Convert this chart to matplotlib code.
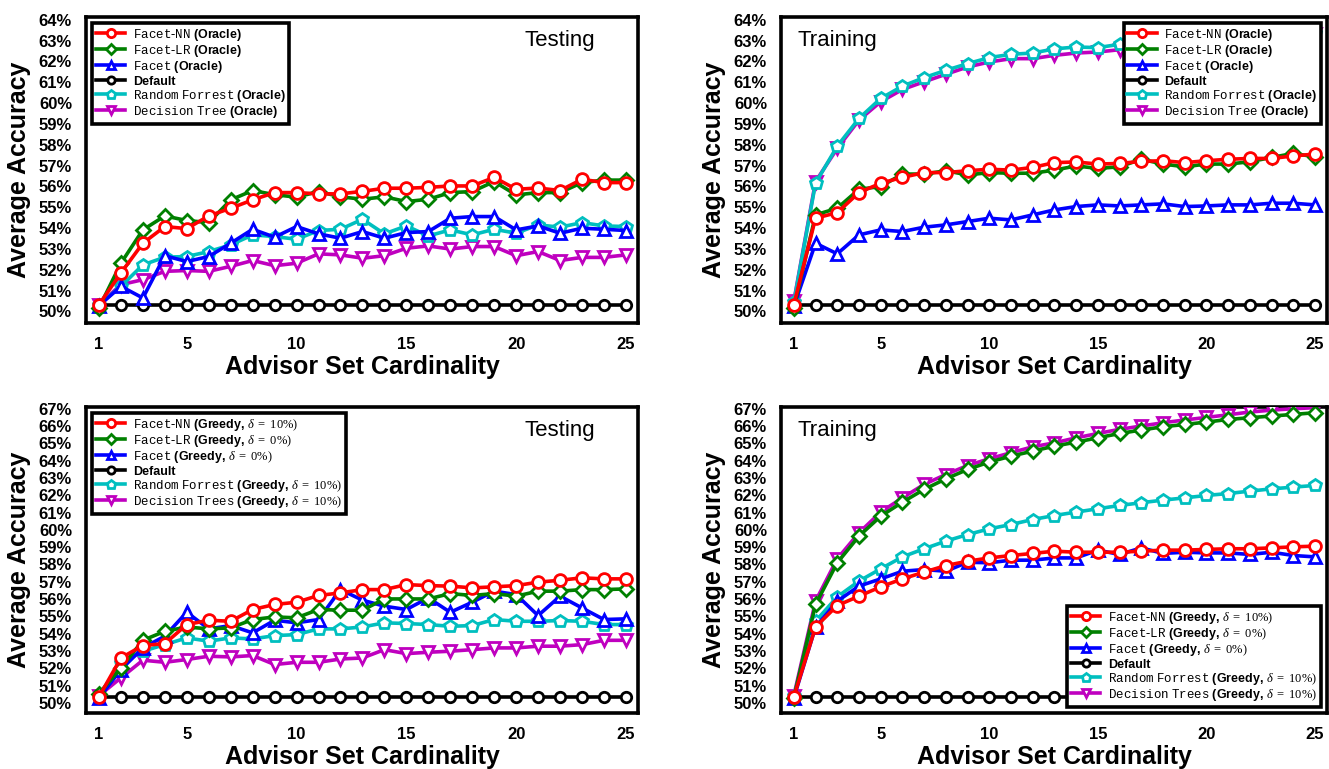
import matplotlib
matplotlib.use("Agg")
import matplotlib.pyplot as plt
from matplotlib.ticker import FixedLocator, FuncFormatter

plt.rcParams['mathtext.fontset'] = 'custom'
plt.rcParams['mathtext.tt'] = 'Liberation Mono'
plt.rcParams['mathtext.rm'] = 'Liberation Serif'
plt.rcParams['mathtext.it'] = 'Liberation Serif:italic'
plt.rcParams['mathtext.bf'] = 'Liberation Sans:bold'
plt.rcParams['font.family'] = ['Liberation Sans', 'DejaVu Sans']

cardinality = list(range(1, 26))
x_ticks = [1, 5, 10, 15, 20, 25]

# ---- Top-left: Testing (Oracle)
test_oracle_nn = [50.32, 51.84, 53.27, 54.07, 53.97, 54.58, 54.95, 55.35, 55.70, 55.70, 55.64, 55.64, 55.76,
                  55.91, 55.91, 55.95, 56.02, 56.02, 56.43, 55.86, 55.92, 55.80, 56.34, 56.18, 56.18]
test_oracle_lr = [50.16, 52.31, 53.91, 54.58, 54.36, 54.26, 55.35, 55.80, 55.60, 55.48, 55.75, 55.50, 55.38,
                  55.50, 55.27, 55.38, 55.70, 55.75, 56.23, 55.59, 55.70, 55.70, 56.18, 56.30, 56.30]
test_oracle_facet = [50.27, 51.20, 50.64, 52.67, 52.39, 52.63, 53.27, 53.94, 53.56, 54.07, 53.72, 53.51, 53.83,
                     53.51, 53.78, 53.83, 54.47, 54.55, 54.55, 53.91, 54.10, 53.75, 53.99, 53.94, 53.88]
test_oracle_default = [50.32] * 25
test_oracle_rf = [50.32, 51.20, 52.23, 52.60, 52.63, 52.87, 53.19, 53.67, 53.59, 53.46, 53.88, 53.94, 54.42,
                  53.72, 54.10, 53.62, 53.91, 53.67, 53.94, 53.75, 54.15, 54.04, 54.26, 54.10, 54.07]
test_oracle_dt = [50.32, 51.28, 51.52, 51.92, 51.96, 51.92, 52.16, 52.44, 52.19, 52.31, 52.76, 52.71, 52.55,
                  52.67, 53.03, 53.14, 52.99, 53.11, 53.11, 52.67, 52.87, 52.44, 52.59, 52.59, 52.71]

# ---- Top-right: Training (Oracle)
train_oracle_nn = [50.32, 54.47, 54.74, 55.70, 56.15, 56.43, 56.66, 56.66, 56.75, 56.82, 56.78, 56.91, 57.14,
                   57.17, 57.07, 57.10, 57.20, 57.23, 57.14, 57.23, 57.30, 57.34, 57.34, 57.46, 57.55]
train_oracle_lr = [50.16, 54.63, 54.95, 55.86, 55.99, 56.59, 56.59, 56.75, 56.55, 56.66, 56.63, 56.63, 56.78,
                   56.98, 56.86, 56.94, 57.30, 57.07, 56.94, 57.07, 57.07, 57.18, 57.39, 57.58, 57.42]
train_oracle_facet = [50.24, 53.27, 52.76, 53.67, 53.91, 53.83, 54.04, 54.15, 54.31, 54.47, 54.39, 54.63, 54.87,
                      55.03, 55.11, 55.06, 55.11, 55.16, 55.03, 55.06, 55.11, 55.11, 55.19, 55.19, 55.11]
train_oracle_default = [50.32] * 25
train_oracle_rf = [50.43, 56.15, 57.93, 59.26, 60.22, 60.81, 61.22, 61.57, 61.89, 62.18, 62.34, 62.40, 62.60,
                   62.69, 62.66, 62.82, 62.90, 63.00, 63.05, 63.10, 63.15, 63.20, 63.25, 63.30, 63.35]
train_oracle_dt = [50.48, 56.23, 57.82, 59.18, 60.06, 60.65, 61.02, 61.38, 61.73, 61.97, 62.13, 62.13, 62.29,
                   62.40, 62.45, 62.56, 62.65, 62.75, 62.85, 62.90, 63.00, 63.05, 63.10, 63.20, 63.30]

# ---- Bottom-left: Testing (Greedy)
test_greedy_nn = [50.35, 52.60, 53.32, 53.43, 54.53, 54.78, 54.72, 55.40, 55.69, 55.82, 56.21, 56.36, 56.55,
                  56.55, 56.84, 56.78, 56.75, 56.65, 56.71, 56.78, 56.98, 57.09, 57.23, 57.17, 57.17]
test_greedy_lr = [50.54, 52.02, 53.62, 54.14, 54.39, 54.28, 54.34, 54.82, 54.97, 54.92, 55.40, 55.36, 55.36,
                  56.01, 56.01, 56.01, 56.32, 56.21, 56.32, 56.17, 56.46, 56.46, 56.55, 56.55, 56.59]
test_greedy_facet = [50.29, 51.93, 53.18, 53.86, 55.24, 54.28, 54.47, 54.05, 54.78, 54.63, 54.82, 56.55, 55.94,
                     55.59, 55.40, 56.07, 55.24, 55.82, 56.46, 56.26, 55.05, 56.17, 55.49, 54.82, 54.86]
test_greedy_default = [50.35] * 25
test_greedy_rf = [50.42, 52.31, 52.99, 53.37, 53.76, 53.57, 53.76, 53.70, 53.89, 53.95, 54.28, 54.28, 54.39,
                  54.63, 54.59, 54.53, 54.43, 54.47, 54.82, 54.72, 54.72, 54.76, 54.72, 54.53, 54.53]
test_greedy_dt = [50.42, 51.45, 52.47, 52.35, 52.51, 52.70, 52.66, 52.74, 52.22, 52.35, 52.35, 52.54, 52.60,
                  53.08, 52.85, 52.93, 52.99, 53.08, 53.18, 53.18, 53.28, 53.28, 53.37, 53.62, 53.62]

# ---- Bottom-right: Training (Greedy)
train_greedy_nn = [50.35, 54.39, 55.63, 56.17, 56.71, 57.17, 57.56, 57.94, 58.19, 58.38, 58.52, 58.64, 58.77,
                   58.71, 58.71, 58.71, 58.77, 58.83, 58.83, 58.87, 58.91, 58.91, 58.96, 59.02, 59.06]
train_greedy_lr = [50.29, 55.69, 58.10, 59.64, 60.79, 61.60, 62.34, 62.95, 63.49, 63.92, 64.26, 64.55, 64.84,
                   65.07, 65.32, 65.57, 65.77, 65.96, 66.09, 66.23, 66.38, 66.48, 66.58, 66.67, 66.77]
train_greedy_facet = [50.29, 54.39, 55.88, 56.75, 57.17, 57.61, 57.71, 57.61, 58.13, 58.10, 58.25, 58.25, 58.38,
                      58.38, 58.83, 58.58, 58.96, 58.64, 58.71, 58.67, 58.67, 58.58, 58.71, 58.52, 58.44]
train_greedy_default = [50.35] * 25
train_greedy_rf = [50.42, 54.72, 56.13, 57.04, 57.75, 58.44, 58.91, 59.35, 59.73, 60.06, 60.31, 60.60, 60.83,
                   61.03, 61.22, 61.41, 61.57, 61.72, 61.85, 61.99, 62.10, 62.24, 62.37, 62.47, 62.57]
train_greedy_dt = [50.42, 55.88, 58.33, 59.83, 61.03, 61.85, 62.63, 63.20, 63.72, 64.11, 64.46, 64.80, 65.03,
                   65.32, 65.57, 65.81, 66.00, 66.19, 66.35, 66.50, 66.65, 66.81, 66.92, 67.00, 67.06]

oracle_labels = [r"$\mathtt{Facet\text{-}NN}$ (Oracle)",
                 r"$\mathtt{Facet\text{-}LR}$ (Oracle)",
                 r"$\mathtt{Facet}$ (Oracle)",
                 "Default",
                 r"$\mathtt{Random\ Forrest}$ (Oracle)",
                 r"$\mathtt{Decision\ Tree}$ (Oracle)"]
greedy_labels = [r"$\mathtt{Facet\text{-}NN}$ (Greedy, $\delta\ =\ 10\%)$",
                 r"$\mathtt{Facet\text{-}LR}$ (Greedy, $\delta\ =\ 0\%)$",
                 r"$\mathtt{Facet}$ (Greedy, $\delta\ =\ 0\%)$",
                 "Default",
                 r"$\mathtt{Random\ Forrest}$ (Greedy, $\delta\ =\ 10\%)$",
                 r"$\mathtt{Decision\ Trees}$ (Greedy, $\delta\ =\ 10\%)$"]

colors = ['red', 'g', 'b', 'k', 'c', 'm']
markers = ['o', 'D', '^', 'o', 'p', 'v']
msizes = [8.5, 7.5, 9, 7.5, 9, 9]

W, H = 1329, 769
fig = plt.figure(figsize=(W / 100, H / 100), dpi=100)


def make_panel(rect, series, labels, yticks, ylim, title, title_x, legend_loc):
    l, t, r, b = rect
    ax = fig.add_axes([l / W, 1 - b / H, (r - l) / W, (b - t) / H])
    handles = []
    for i in reversed(range(6)):
        h, = ax.plot(cardinality, series[i], color=colors[i], marker=markers[i], ms=msizes[i],
                     mfc='white', mec=colors[i], mew=2.0, lw=2.6, zorder=3 + (6 - i))
        handles.append(h)
    handles = handles[::-1]
    ax.set_xlim(0.41, 25.55)
    ax.set_ylim(*ylim)
    ax.xaxis.set_major_locator(FixedLocator(x_ticks))
    ax.yaxis.set_major_locator(FixedLocator(yticks))
    ax.yaxis.set_major_formatter(FuncFormatter(lambda v, p: f"{v:.0f}%"))
    ax.tick_params(length=0, pad=10, labelsize=12)
    for lab in ax.get_xticklabels() + ax.get_yticklabels():
        lab.set_fontweight('bold')
    for s in ax.spines.values():
        s.set_linewidth(2.6)
        s.set_color('black')
    ax.set_xlabel('Advisor Set Cardinality', fontsize=18, fontweight='bold', labelpad=2)
    ax.set_ylabel('Average Accuracy', fontsize=18, fontweight='bold', labelpad=6)
    ax.text(title_x, 0.922, title, transform=ax.transAxes, fontsize=16, ha='center', va='center')
    leg = ax.legend(handles, labels, loc=legend_loc, prop={'weight': 'bold', 'size': 9.0},
                    fancybox=False, framealpha=1, edgecolor='black', handlelength=2.35,
                    handleheight=1.12, handletextpad=0.6, labelspacing=0.0, borderpad=0.3,
                    borderaxespad=0.5, markerscale=0.7)
    leg.get_frame().set_linewidth(2.6)
    leg.set_zorder(20)
    return ax


yt_top = list(range(50, 65))
yt_bot = list(range(50, 68))

make_panel((86, 17, 638, 323),
           [test_oracle_nn, test_oracle_lr, test_oracle_facet, test_oracle_default, test_oracle_rf, test_oracle_dt],
           oracle_labels, yt_top, (49.44, 64.13), 'Testing', 0.859, 'upper left')
make_panel((781, 17, 1327, 323),
           [train_oracle_nn, train_oracle_lr, train_oracle_facet, train_oracle_default, train_oracle_rf, train_oracle_dt],
           oracle_labels, yt_top, (49.44, 64.13), 'Training', 0.103, 'upper right')
make_panel((86, 407, 638, 713),
           [test_greedy_nn, test_greedy_lr, test_greedy_facet, test_greedy_default, test_greedy_rf, test_greedy_dt],
           greedy_labels, yt_bot, (49.42, 67.1), 'Testing', 0.859, 'upper left')
make_panel((781, 407, 1327, 713),
           [train_greedy_nn, train_greedy_lr, train_greedy_facet, train_greedy_default, train_greedy_rf, train_greedy_dt],
           greedy_labels, yt_bot, (49.42, 67.1), 'Training', 0.103, 'lower right')

fig.savefig('out.png', dpi=100)
